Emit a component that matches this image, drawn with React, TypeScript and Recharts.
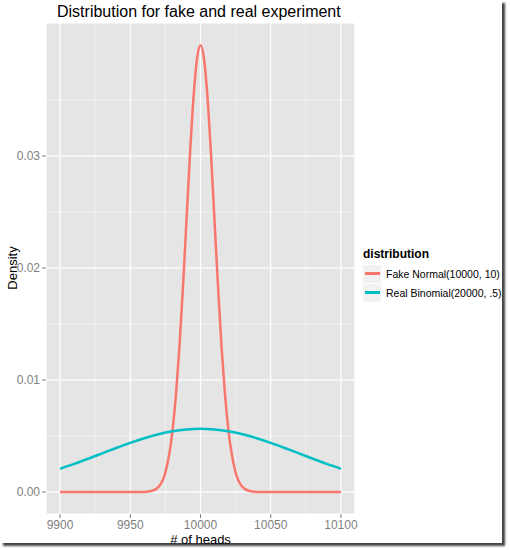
import { LineChart, Line, XAxis, YAxis, CartesianGrid } from "recharts";

// Fake Normal(10000, 10) density
const normalX = [
  9900, 9950, 9955, 9960, 9965, 9970, 9975, 9980, 9982.5, 9985, 9987.5, 9990,
  9992.5, 9995, 9997.5, 10000, 10002.5, 10005, 10007.5, 10010, 10012.5, 10015,
  10017.5, 10020, 10025, 10030, 10035, 10040, 10045, 10050, 10100,
];
const normalY = [
  0, 0, 0.0000016, 0.0000134, 0.0000873, 0.000443, 0.00175, 0.0054, 0.00863,
  0.01295, 0.01827, 0.0242, 0.03012, 0.0352, 0.03867, 0.03989, 0.03867, 0.0352,
  0.03012, 0.0242, 0.01827, 0.01295, 0.00863, 0.0054, 0.00175, 0.000443,
  0.0000873, 0.0000134, 0.0000016, 0, 0,
];

// Real Binomial(20000, .5)
const binomX = [
  9900, 9910, 9920, 9930, 9940, 9950, 9960, 9970, 9980, 9990, 10000, 10010,
  10020, 10030, 10040, 10050, 10060, 10070, 10080, 10090, 10100,
];
const binomY = [
  0.002075, 0.00251, 0.002975, 0.003456, 0.003936, 0.004394, 0.004808,
  0.005156, 0.005421, 0.005586, 0.005642, 0.005586, 0.005421, 0.005156,
  0.004808, 0.004394, 0.003936, 0.003456, 0.002975, 0.00251, 0.002075,
];

const xTicks = [9900, 9950, 10000, 10050, 10100];
const yTicks = [0, 0.01, 0.02, 0.03];
const xMinor = [9925, 9975, 10025, 10075];
const yMinor = [0.005, 0.015, 0.025, 0.035];

const seriesNames = ["Fake Normal(10000, 10)", "Real Binomial(20000, .5)"];
const COLORS = ["#F8766D", "#00BFC4"];

const normalData = normalX.map((x, i) => ({ x, y: normalY[i] }));
const binomData = binomX.map((x, i) => ({ x, y: binomY[i] }));

const FONT = "'Liberation Sans', Arial, sans-serif";

const LegendBox = () => (
  <div
    style={{
      position: "absolute",
      left: 363,
      top: 247,
      fontFamily: FONT,
      fontSize: 10.5,
      color: "#000",
      whiteSpace: "nowrap",
    }}
  >
    <div style={{ fontWeight: "bold", fontSize: 12, marginBottom: 3 }}>
      distribution
    </div>
    {seriesNames.map((n, i) => (
      <div
        key={n}
        style={{ display: "flex", alignItems: "center", height: 19 }}
      >
        <div
          style={{
            width: 18,
            height: 18,
            background: "#F2F2F2",
            display: "flex",
            alignItems: "center",
            justifyContent: "center",
            marginRight: 5,
          }}
        >
          <div style={{ width: 15, height: 3, background: COLORS[i] }} />
        </div>
        <span>{n}</span>
      </div>
    ))}
  </div>
);

const fmtY = (v: number) => v.toFixed(2);

export default function App() {
  return (
    <div
      style={{
        position: "absolute",
        left: 0,
        top: 0,
        width: 510,
        height: 550,
        background: "#fff",
      }}
    >
      <div
        style={{
          position: "absolute",
          left: 0,
          top: 0,
          width: 502,
          height: 543,
          background: "#fff",
          boxShadow: "3px 3px 2px #444",
        }}
      />
      <div
        style={{
          position: "absolute",
          left: 57,
          top: 3,
          fontFamily: FONT,
          fontSize: 16,
          color: "#000",
        }}
      >
        Distribution for fake and real experiment
      </div>
      <div
        style={{
          position: "absolute",
          left: 0,
          top: 532,
          width: 401,
          textAlign: "center",
          fontFamily: FONT,
          fontSize: 13,
          color: "#000",
        }}
      >
        # of heads
      </div>
      <div
        style={{
          position: "absolute",
          left: 12,
          top: 268,
          transform: "translate(-50%, -50%) rotate(-90deg)",
          fontFamily: FONT,
          fontSize: 13,
          color: "#000",
        }}
      >
        Density
      </div>
      <div style={{ position: "absolute", left: 0, top: 0 }}>
        <LineChart
          width={510}
          height={550}
          margin={{ top: 23, right: 155, left: 0, bottom: 0 }}
        >
          <CartesianGrid
            fill="#E5E5E5"
            stroke="#F2F2F2"
            strokeWidth={0.8}
            verticalValues={xMinor}
            horizontalValues={yMinor}
          />
          <CartesianGrid fill="none" stroke="#FFFFFF" strokeWidth={1.2} />
          <XAxis
            dataKey="x"
            type="number"
            domain={[9890, 10110]}
            ticks={xTicks}
            allowDuplicatedCategory={false}
            height={36}
            axisLine={false}
            tickLine={{ stroke: "#7F7F7F" }}
            tickSize={4}
            tick={{ fill: "#7F7F7F", fontSize: 12, fontFamily: FONT }}
          />
          <YAxis
            type="number"
            domain={[-0.00196, 0.04188]}
            ticks={yTicks}
            tickFormatter={fmtY}
            width={46}
            axisLine={false}
            tickLine={{ stroke: "#7F7F7F" }}
            tickSize={4}
            tick={{ fill: "#7F7F7F", fontSize: 12, fontFamily: FONT }}
          />
          <Line
            data={normalData}
            dataKey="y"
            name={seriesNames[0]}
            type="monotone"
            stroke={COLORS[0]}
            strokeWidth={2.5}
            dot={false}
            activeDot={false}
            isAnimationActive={false}
          />
          <Line
            data={binomData}
            dataKey="y"
            name={seriesNames[1]}
            type="monotone"
            stroke={COLORS[1]}
            strokeWidth={2.5}
            dot={false}
            activeDot={false}
            isAnimationActive={false}
          />
        </LineChart>
      </div>
      <LegendBox />
    </div>
  );
}
